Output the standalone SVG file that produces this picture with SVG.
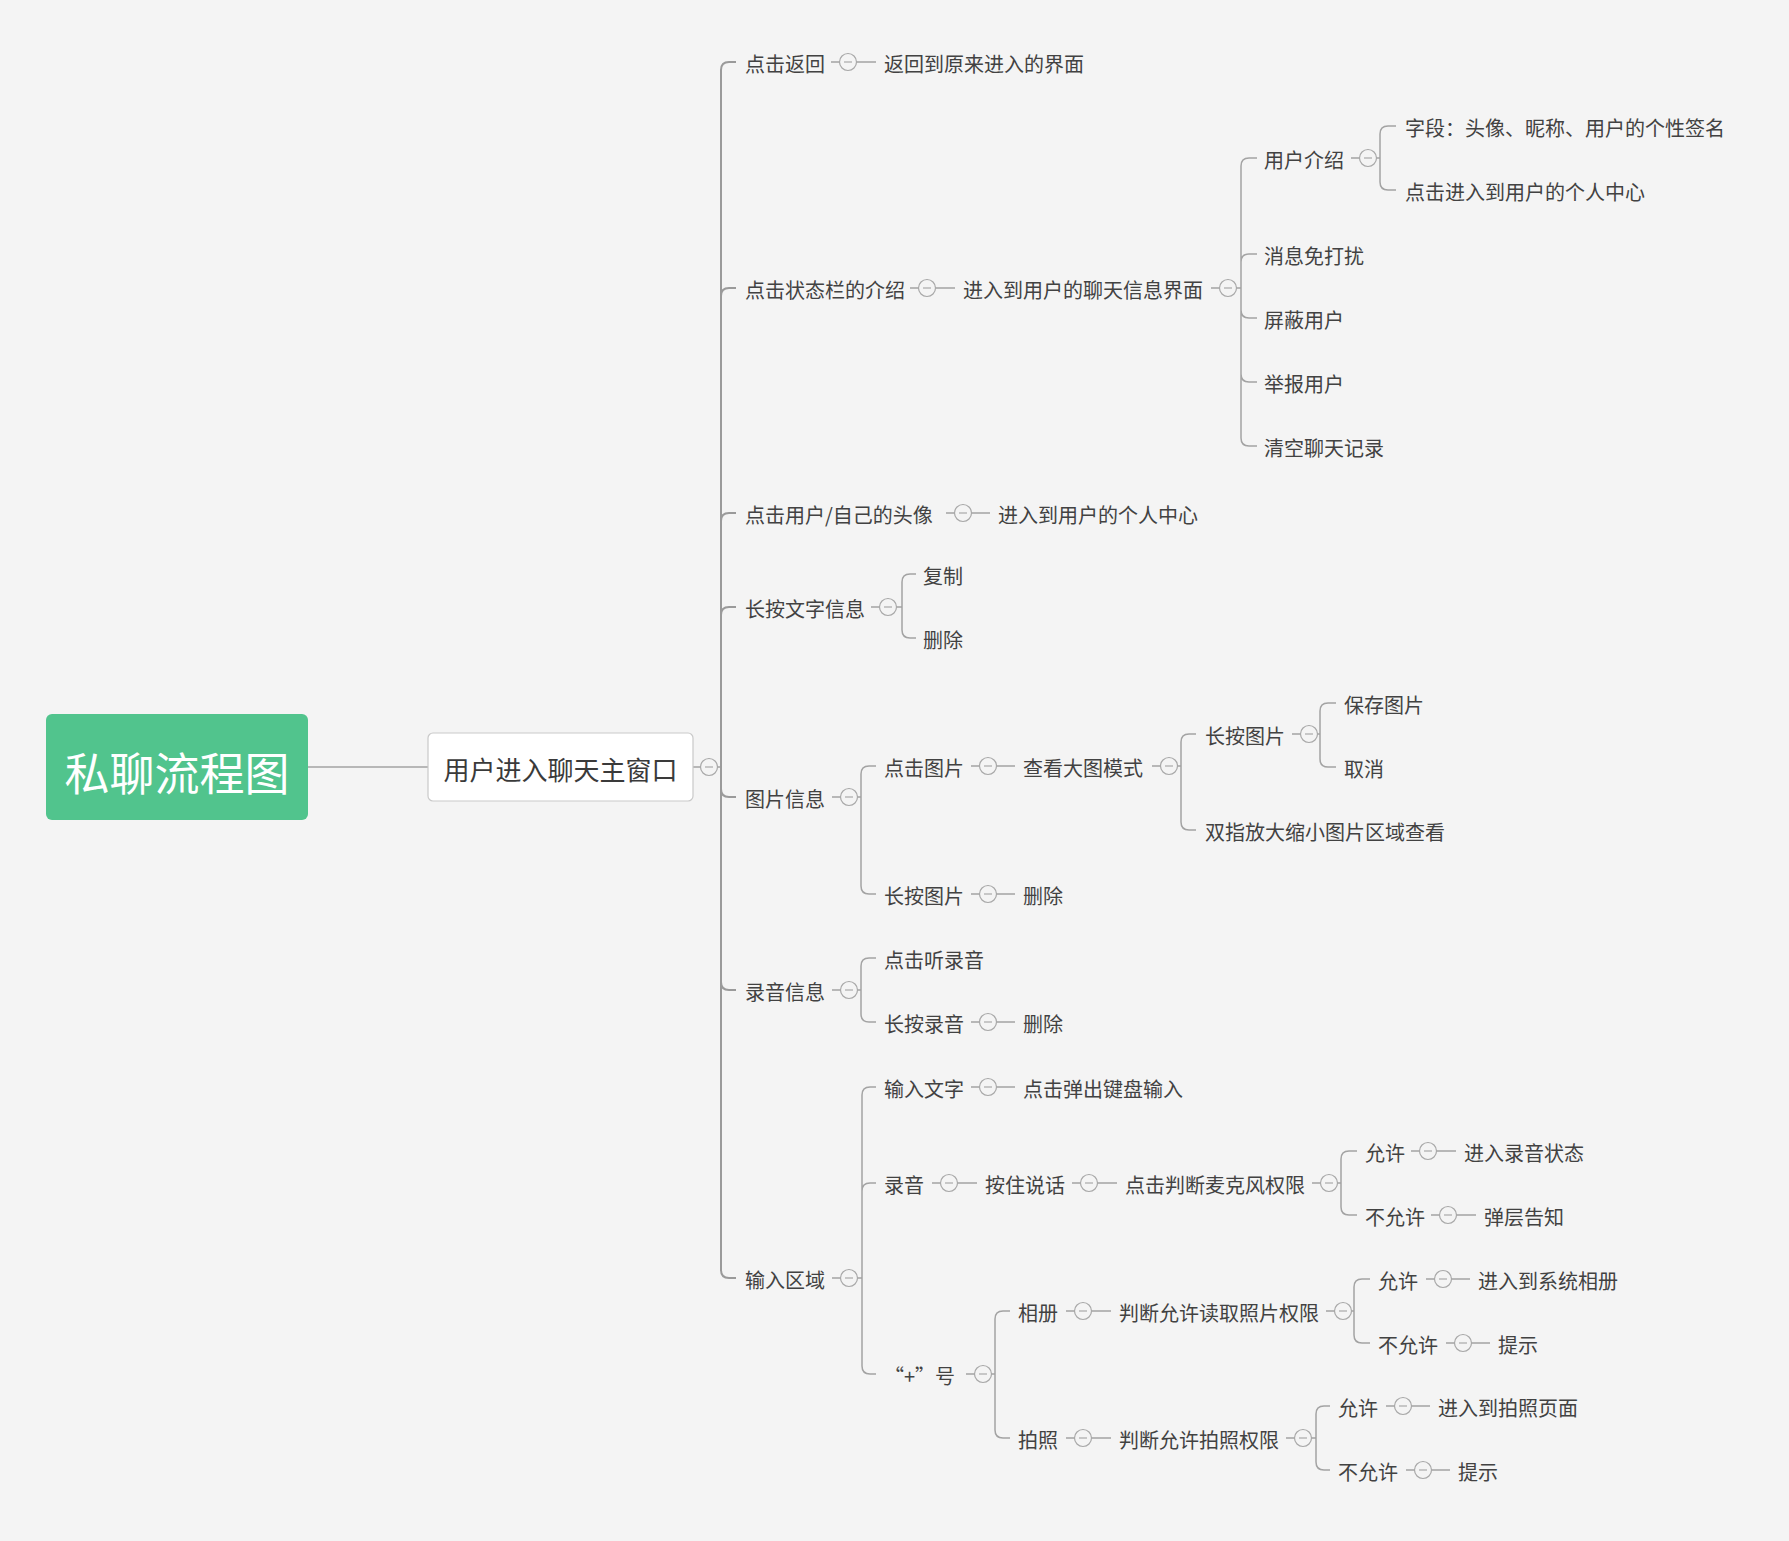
<svg xmlns="http://www.w3.org/2000/svg" xmlns:xlink="http://www.w3.org/1999/xlink" width="1789" height="1541" viewBox="0 0 1789 1541">
<style>
text{font-family:"Noto Sans CJK SC","Noto Sans",sans-serif;}
.t{font-size:20px;fill:#424242;}
.ln{fill:none;stroke:#a3a3a3;stroke-width:1.5;}
.tk{fill:none;stroke:#9a9a9a;stroke-width:2;}
.col circle{fill:#f4f4f4;stroke:#a8a8a8;stroke-width:1.2;}
.col line{stroke:#a8a8a8;stroke-width:1.2;}
</style>
<defs>
<g id="c" class="col"><circle cx="0" cy="0" r="8.5"/><line x1="-4" y1="0" x2="4" y2="0"/></g>
</defs>
<rect x="0" y="0" width="1789" height="1541" fill="#f4f4f4"/>
<g id="connectors">
<path class="ln" d="M307 767 H428"/>
<path class="ln" d="M693 767 H700.5 M717.5 767 H721"/>
<path class="tk" d="M721 70 V1270 M721 70 Q721 62 729 62 H736 M721 296 Q721 288 729 288 H736 M721 521 Q721 513 729 513 H736 M721 615 Q721 607 729 607 H736 M721 789 Q721 797 729 797 H736 M721 982 Q721 990 729 990 H736 M721 1270 Q721 1278 729 1278 H736"/>
<path class="ln" d="M831 62 H839.5 M856.5 62 H876"/>
<path class="ln" d="M910 288 H918.5 M935.5 288 H955"/>
<path class="ln" d="M1211 288 H1219.5 M1236.5 288 H1241"/>
<path class="ln" d="M1241 166 V438 M1241 166 Q1241 158 1249 158 H1257 M1241 262 Q1241 254 1249 254 H1257 M1241 310 Q1241 318 1249 318 H1257 M1241 374 Q1241 382 1249 382 H1257 M1241 438 Q1241 446 1249 446 H1257"/>
<path class="ln" d="M1351 158 H1359.5 M1376.5 158 H1380"/>
<path class="ln" d="M1380 134 V182 M1380 134 Q1380 126 1388 126 H1396 M1380 182 Q1380 190 1388 190 H1396"/>
<path class="ln" d="M946 513 H954.5 M971.5 513 H990"/>
<path class="ln" d="M871 607 H879.5 M896.5 607 H902"/>
<path class="ln" d="M902 582 V630 M902 582 Q902 574 910 574 H916 M902 630 Q902 638 910 638 H916"/>
<path class="ln" d="M832 797 H840.5 M857.5 797 H861"/>
<path class="ln" d="M861 774 V886 M861 774 Q861 766 869 766 H876 M861 886 Q861 894 869 894 H876"/>
<path class="ln" d="M971 766 H979.5 M996.5 766 H1015"/>
<path class="ln" d="M1152 766 H1160.5 M1177.5 766 H1181"/>
<path class="ln" d="M1181 742 V822 M1181 742 Q1181 734 1189 734 H1196 M1181 822 Q1181 830 1189 830 H1196"/>
<path class="ln" d="M1292 734 H1300.5 M1317.5 734 H1320"/>
<path class="ln" d="M1320 711 V759 M1320 711 Q1320 703 1328 703 H1336 M1320 759 Q1320 767 1328 767 H1336"/>
<path class="ln" d="M971 894 H979.5 M996.5 894 H1015"/>
<path class="ln" d="M832 990 H840.5 M857.5 990 H861"/>
<path class="ln" d="M861 966 V1014 M861 966 Q861 958 869 958 H876 M861 1014 Q861 1022 869 1022 H876"/>
<path class="ln" d="M971 1022 H979.5 M996.5 1022 H1015"/>
<path class="ln" d="M832 1278 H840.5 M857.5 1278 H862"/>
<path class="ln" d="M862 1095 V1366 M862 1095 Q862 1087 870 1087 H876 M862 1191 Q862 1183 870 1183 H876 M862 1366 Q862 1374 870 1374 H876"/>
<path class="ln" d="M971 1087 H979.5 M996.5 1087 H1015"/>
<path class="ln" d="M932 1183 H940.5 M957.5 1183 H977"/>
<path class="ln" d="M1072 1183 H1080.5 M1097.5 1183 H1117"/>
<path class="ln" d="M1312 1183 H1320.5 M1337.5 1183 H1341"/>
<path class="ln" d="M1341 1159 V1207 M1341 1159 Q1341 1151 1349 1151 H1357 M1341 1207 Q1341 1215 1349 1215 H1357"/>
<path class="ln" d="M1411 1151 H1419.5 M1436.5 1151 H1456"/>
<path class="ln" d="M1431 1215 H1439.5 M1456.5 1215 H1476"/>
<path class="ln" d="M966 1374 H974.5 M991.5 1374 H995"/>
<path class="ln" d="M995 1319 V1430 M995 1319 Q995 1311 1003 1311 H1010 M995 1430 Q995 1438 1003 1438 H1010"/>
<path class="ln" d="M1066 1311 H1074.5 M1091.5 1311 H1111"/>
<path class="ln" d="M1326 1311 H1334.5 M1351.5 1311 H1354"/>
<path class="ln" d="M1354 1287 V1335 M1354 1287 Q1354 1279 1362 1279 H1370 M1354 1335 Q1354 1343 1362 1343 H1370"/>
<path class="ln" d="M1426 1279 H1434.5 M1451.5 1279 H1470"/>
<path class="ln" d="M1446 1343 H1454.5 M1471.5 1343 H1490"/>
<path class="ln" d="M1066 1438 H1074.5 M1091.5 1438 H1111"/>
<path class="ln" d="M1286 1438 H1294.5 M1311.5 1438 H1316"/>
<path class="ln" d="M1316 1414 V1462 M1316 1414 Q1316 1406 1324 1406 H1330 M1316 1462 Q1316 1470 1324 1470 H1330"/>
<path class="ln" d="M1386 1406 H1394.5 M1411.5 1406 H1430"/>
<path class="ln" d="M1406 1470 H1414.5 M1431.5 1470 H1450"/>
<use href="#c" x="709" y="767"/>
<use href="#c" x="848" y="62"/>
<use href="#c" x="927" y="288"/>
<use href="#c" x="1228" y="288"/>
<use href="#c" x="1368" y="158"/>
<use href="#c" x="963" y="513"/>
<use href="#c" x="888" y="607"/>
<use href="#c" x="849" y="797"/>
<use href="#c" x="988" y="766"/>
<use href="#c" x="1169" y="766"/>
<use href="#c" x="1309" y="734"/>
<use href="#c" x="988" y="894"/>
<use href="#c" x="849" y="990"/>
<use href="#c" x="988" y="1022"/>
<use href="#c" x="849" y="1278"/>
<use href="#c" x="988" y="1087"/>
<use href="#c" x="949" y="1183"/>
<use href="#c" x="1089" y="1183"/>
<use href="#c" x="1329" y="1183"/>
<use href="#c" x="1428" y="1151"/>
<use href="#c" x="1448" y="1215"/>
<use href="#c" x="983" y="1374"/>
<use href="#c" x="1083" y="1311"/>
<use href="#c" x="1343" y="1311"/>
<use href="#c" x="1443" y="1279"/>
<use href="#c" x="1463" y="1343"/>
<use href="#c" x="1083" y="1438"/>
<use href="#c" x="1303" y="1438"/>
<use href="#c" x="1403" y="1406"/>
<use href="#c" x="1423" y="1470"/>
</g>
<g id="root"><rect x="46" y="714" width="262" height="106" rx="6" fill="#51c48d"/><text x="177" y="791" font-size="45" fill="#ffffff" text-anchor="middle">私聊流程图</text></g>
<g id="main"><rect x="428" y="733" width="265" height="68" rx="5" fill="#ffffff" stroke="#c9c9c9" stroke-width="1.2"/><text x="560.5" y="780" font-size="26" fill="#3a3a3a" text-anchor="middle">用户进入聊天主窗口</text></g>
<g id="n1"><text class="t" x="745" y="72">点击返回</text></g>
<g id="n1a"><text class="t" x="884" y="72">返回到原来进入的界面</text></g>
<g id="n2"><text class="t" x="745" y="298">点击状态栏的介绍</text></g>
<g id="n2a"><text class="t" x="963" y="298">进入到用户的聊天信息界面</text></g>
<g id="n2a1"><text class="t" x="1264" y="168">用户介绍</text></g>
<g id="n2a1a"><text class="t" x="1405" y="136">字段：头像、昵称、用户的个性签名</text></g>
<g id="n2a1b"><text class="t" x="1405" y="200">点击进入到用户的个人中心</text></g>
<g id="n2a2"><text class="t" x="1264" y="264">消息免打扰</text></g>
<g id="n2a3"><text class="t" x="1264" y="328">屏蔽用户</text></g>
<g id="n2a4"><text class="t" x="1264" y="392">举报用户</text></g>
<g id="n2a5"><text class="t" x="1264" y="456">清空聊天记录</text></g>
<g id="n3"><text class="t" x="745" y="523">点击用户/自己的头像</text></g>
<g id="n3a"><text class="t" x="998" y="523">进入到用户的个人中心</text></g>
<g id="n4"><text class="t" x="745" y="617">长按文字信息</text></g>
<g id="n4a"><text class="t" x="923" y="584">复制</text></g>
<g id="n4b"><text class="t" x="923" y="648">删除</text></g>
<g id="n5"><text class="t" x="745" y="807">图片信息</text></g>
<g id="n5a"><text class="t" x="884" y="776">点击图片</text></g>
<g id="n5a1"><text class="t" x="1023" y="776">查看大图模式</text></g>
<g id="n5a1a"><text class="t" x="1205" y="744">长按图片</text></g>
<g id="n5a1a1"><text class="t" x="1344" y="713">保存图片</text></g>
<g id="n5a1a2"><text class="t" x="1344" y="777">取消</text></g>
<g id="n5a1b"><text class="t" x="1205" y="840">双指放大缩小图片区域查看</text></g>
<g id="n5b"><text class="t" x="884" y="904">长按图片</text></g>
<g id="n5b1"><text class="t" x="1023" y="904">删除</text></g>
<g id="n6"><text class="t" x="745" y="1000">录音信息</text></g>
<g id="n6a"><text class="t" x="884" y="968">点击听录音</text></g>
<g id="n6b"><text class="t" x="884" y="1032">长按录音</text></g>
<g id="n6b1"><text class="t" x="1023" y="1032">删除</text></g>
<g id="n7"><text class="t" x="745" y="1288">输入区域</text></g>
<g id="n7a"><text class="t" x="884" y="1097">输入文字</text></g>
<g id="n7a1"><text class="t" x="1023" y="1097">点击弹出键盘输入</text></g>
<g id="n7b"><text class="t" x="884" y="1193">录音</text></g>
<g id="n7b1"><text class="t" x="985" y="1193">按住说话</text></g>
<g id="n7b2"><text class="t" x="1125" y="1193">点击判断麦克风权限</text></g>
<g id="n7b2a"><text class="t" x="1365" y="1161">允许</text></g>
<g id="n7b2a1"><text class="t" x="1464" y="1161">进入录音状态</text></g>
<g id="n7b2b"><text class="t" x="1365" y="1225">不允许</text></g>
<g id="n7b2b1"><text class="t" x="1484" y="1225">弹层告知</text></g>
<g id="n7c"><text class="t" x="884" y="1384">“+”号</text></g>
<g id="n7c1"><text class="t" x="1018" y="1321">相册</text></g>
<g id="n7c1a"><text class="t" x="1119" y="1321">判断允许读取照片权限</text></g>
<g id="n7c1a1"><text class="t" x="1378" y="1289">允许</text></g>
<g id="n7c1a1a"><text class="t" x="1478" y="1289">进入到系统相册</text></g>
<g id="n7c1a2"><text class="t" x="1378" y="1353">不允许</text></g>
<g id="n7c1a2a"><text class="t" x="1498" y="1353">提示</text></g>
<g id="n7c2"><text class="t" x="1018" y="1448">拍照</text></g>
<g id="n7c2a"><text class="t" x="1119" y="1448">判断允许拍照权限</text></g>
<g id="n7c2a1"><text class="t" x="1338" y="1416">允许</text></g>
<g id="n7c2a1a"><text class="t" x="1438" y="1416">进入到拍照页面</text></g>
<g id="n7c2a2"><text class="t" x="1338" y="1480">不允许</text></g>
<g id="n7c2a2a"><text class="t" x="1458" y="1480">提示</text></g>
</svg>
